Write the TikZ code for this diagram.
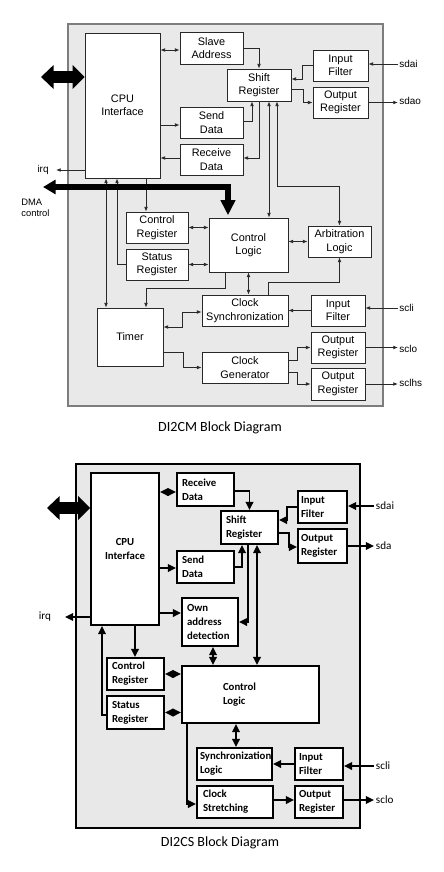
\documentclass[tikz,border=0pt]{standalone}
\usepackage{fontspec}
\usepackage{xcolor}
\usepackage{tikz}
\usetikzlibrary{arrows.meta,positioning}
\newfontfamily\arialfont{Liberation Sans}
\newfontfamily\calfont{Carlito}
\definecolor{dicm_panel}{RGB}{233,233,233}
\definecolor{dicm_edge}{RGB}{125,125,125}
\definecolor{dicm_line}{RGB}{40,40,40}
\definecolor{dics_panel}{RGB}{232,232,232}

\begin{document}
\begin{tikzpicture}[
      x=0.03cm, y=-0.03cm,
      panela/.style={fill=dicm_panel, draw=dicm_edge, line width=1.2pt},
      panelb/.style={fill=dics_panel, draw=black, line width=1.2pt},
      box/.style={draw=dicm_line, fill=white, line width=0.7pt, inner sep=0pt,
                  align=center, font=\arialfont\fontsize{9.3}{11.5}\selectfont},
      sz/.style 2 args={minimum width=#1cm, minimum height=#2cm},
      arr/.style={-{Latex[length=4pt,width=3.2pt]}, dicm_line, line width=0.7pt},
      darr/.style={{Latex[length=4pt,width=3.2pt]}-{Latex[length=4pt,width=3.2pt]},
                   dicm_line, line width=0.7pt},
      lbl/.style={font=\arialfont\fontsize{8.5}{10}\selectfont, inner sep=1pt},
      fatarr/.style={line width=0.36cm,
                     {Triangle[length=0.38cm,width=0.7cm]}-{Triangle[length=0.36cm,width=0.7cm]}},
      dmaarr/.style={line width=0.16cm,
                     {Triangle[length=0.38cm,width=0.42cm]}-{Triangle[length=0.45cm,width=0.42cm]}},
      bbox/.style={draw, fill=white, line width=1.6pt, inner xsep=0pt, inner ysep=0pt,
                   align=left, font=\calfont\bfseries\fontsize{9.2}{11.8}\selectfont},
      bsz/.style n args={3}{minimum width=#1cm, minimum height=#2cm, text width=#3cm},
      barr/.style={-{Triangle[length=7pt,width=6.5pt]}, line width=1.5pt},
      bdarr/.style={{Triangle[length=7pt,width=6.5pt]}-{Triangle[length=7pt,width=6.5pt]},
                    line width=1.5pt},
      blbl/.style={font=\calfont\fontsize{9.5}{11}\selectfont, inner sep=1.5pt},
      captxt/.style={font=\calfont\fontsize{12}{14}\selectfont},
    ]
    \useasboundingbox (0,0) rectangle (443,872);

    % DI2CM: master
    \draw[panela] (68,24) rectangle (383,406);
    \node[box, sz={2.25}{4.35}] (cpu)     at (122.5,105.5) {CPU\\Interface};
    \node[box, sz={1.89}{0.96}] (slave)   at (211.5,48)    {Slave\\Address};
    \node[box, sz={1.89}{0.93}] (send)    at (211.5,122.5) {Send\\Data};
    \node[box, sz={1.89}{0.93}] (recv)    at (211.5,159.5) {Receive\\Data};
    \node[box, sz={1.92}{0.96}] (shift)   at (259,85)      {Shift\\Register};
    \node[box, sz={1.65}{0.93}] (sdaflt)  at (340.5,65.5)  {Input\\Filter};
    \node[box, sz={1.65}{0.93}] (sdareg)  at (340.5,102.5) {Output\\Register};
    \node[box, sz={1.86}{0.93}] (ctrlreg) at (157,227.5)   {Control\\Register};
    \node[box, sz={1.86}{0.93}] (statreg) at (157,264.5)   {Status\\Register};
    \node[box, sz={2.37}{1.62}] (ctrl)    at (248.5,245)   {Control\\Logic};
    \node[box, sz={1.89}{0.93}] (arb)     at (339.5,241.5) {Arbitration\\Logic};
    \node[box, sz={2.58}{0.93}] (csync)   at (245,310.5)   {Clock\\Synchronization};
    \node[box, sz={1.62}{0.93}] (sclflt)  at (338,310.5)   {Input\\Filter};
    \node[box, sz={1.98}{1.74}] (timer)   at (130,337)     {Timer};
    \node[box, sz={2.58}{0.93}] (cgen)    at (245,367.5)   {Clock\\Generator};
    \node[box, sz={1.62}{0.93}] (sclreg)  at (338,347.5)   {Output\\Register};
    \node[box, sz={1.62}{0.96}] (hsreg)   at (338,384)     {Output\\Register};

    % pins
    \node[lbl, anchor=west] (sdai)  at (398,64)  {sdai};
    \node[lbl, anchor=west] (sdao)  at (398,101) {sdao};
    \node[lbl, anchor=west] (scli)  at (398,308) {scli};
    \node[lbl, anchor=west] (sclo)  at (398,349) {sclo};
    \node[lbl, anchor=west] (sclhs) at (398,383) {sclhs};
    \node[lbl, anchor=east] (irq)   at (50,170)  {irq};
    \node[lbl, anchor=west, align=left, font=\arialfont\fontsize{8}{9.5}\selectfont]
         (dmalbl) at (20,208) {DMA\\control};
    \coordinate (irqend) at (56,170);
    \coordinate (dmaend) at (43,187);
    \coordinate (busend) at (41,77);

    \draw[darr] (cpu.east |- 0,50) -- (slave.west |- 0,50);
    \draw[arr] (slave.east) -| (shift.north);
    \draw[arr] (cpu.east |- 0,125) -- (send.west |- 0,125);
    \draw[arr] (send.east |- 0,121) -| (shift.south -| 252,0);
    \draw[arr] (shift.south -| 259,0) |- (recv.east |- 0,158);
    \draw[arr] (recv.west |- 0,158) -- (cpu.east |- 0,158);
    \draw[darr] (shift.south -| 269,0) -- (ctrl.north -| 269,0);
    \draw[darr] (shift.south -| 277,0) -- ++(0,85) -| (arb.north);
    \draw[arr] (sdaflt.west) -- ++(-10,0) |- (shift.east |- 0,79);
    \draw[arr] (shift.east |- 0,89) -- ++(12,0) |- (sdareg.west);
    \draw[arr] (sdai.west) -- (sdai.west -| sdaflt.east);
    \draw[arr] (sdareg.east) -- (sdareg.east -| sdao.west);

    \draw[arr] (cpu.south -| 146,0) -- (ctrlreg.north -| 146,0);
    \draw[arr] (statreg.west) -| (cpu.south -| 117,0);
    \draw[darr] (cpu.south -| 106,0) -- (timer.north -| 106,0);
    \draw[darr] (ctrlreg.east) -- (ctrlreg.east -| ctrl.west);
    \draw[darr] (statreg.east) -- (statreg.east -| ctrl.west);
    \draw[darr] (ctrl.east |- arb.west) -- (arb.west);
    \draw[darr] (ctrl.south) -- (ctrl.south |- csync.north);
    \draw[arr] (csync.north -| 268,0) -- ++(0,-12) -| (arb.south);
    \draw[arr] (sclflt.west) -- (sclflt.west -| csync.east);
    \draw[arr] (scli.west) -- (scli.west -| sclflt.east);
    \draw[darr] (csync.west |- 0,312) -- ++(-19,0) |- (timer.east |- 0,327);
    \draw[arr] (ctrl.south -| 225,0) -- ++(0,16) -| (timer.north -| 146,0);
    \draw[arr] (timer.east |- 0,352) -- ++(20,0) |- (cgen.west);
    \draw[arr] (cgen.east |- 0,360) -- ++(9,0) |- (sclreg.west);
    \draw[arr] (cgen.east |- 0,372) -- ++(9,0) |- (hsreg.west);
    \draw[arr] (sclreg.east) -- (sclreg.east -| sclo.west);
    \draw[arr] (hsreg.east) -- (hsreg.east -| sclhs.west);
    \draw[arr] (cpu.west |- irqend) -- (irqend);

    % buses
    \draw[fatarr] (busend) -- (cpu.west |- busend);
    \draw[dmaarr] (dmaend) -| ([yshift=2pt]ctrl.north -| 228,0);

    \node[captxt] (capa) at (220,428) {DI2CM Block Diagram};

    % DI2CS: slave
    \draw[panelb] (76,464) rectangle (360,828);
    \node[bbox, bsz={2.04}{4.56}{2.04}, align=center] (cpub) at (125,549) {CPU\\Interface};
    \node[bbox, bsz={1.71}{0.99}{1.41}] (recvb)    at (205.5,489.5) {Receive\\Data};
    \node[bbox, bsz={1.71}{0.96}{1.41}] (sendb)    at (205.5,567)   {Send\\Data};
    \node[bbox, bsz={1.68}{1.44}{1.38}] (ownb)     at (210,622)     {Own\\address\\detection};
    \node[bbox, bsz={1.71}{0.99}{1.41}] (shiftb)   at (249.5,527.5) {Shift\\Register};
    \node[bbox, bsz={1.47}{0.96}{1.29}] (sdafltb)  at (322.5,507)   {Input\\Filter};
    \node[bbox, bsz={1.47}{1.02}{1.29}] (sdaregb)  at (322.5,546)   {Output\\Register};
    \node[bbox, bsz={1.71}{0.96}{1.41}] (ctrlregb) at (135.5,674)   {Control\\Register};
    \node[bbox, bsz={1.71}{0.99}{1.41}] (statregb) at (135.5,712.5) {Status\\Register};
    \node[bbox, bsz={4.11}{1.71}{1.65}] (ctrlb)    at (250.5,694.5) {Control\\Logic};
    \node[bbox, bsz={2.25}{0.96}{2.07}] (syncb)    at (234.5,764)   {Synchronization\\Logic};
    \node[bbox, bsz={1.44}{0.96}{1.2}]  (sclfltb)  at (319,764)     {Input\\Filter};
    \node[bbox, bsz={2.28}{0.96}{1.92}] (strb)     at (235,802)     {Clock\\Stretching};
    \node[bbox, bsz={1.44}{0.96}{1.2}]  (sclregb)  at (319,802)     {Output\\Register};

    % pins
    \node[blbl, anchor=west] (sdaib) at (374,506) {sdai};
    \node[blbl, anchor=west] (sdab)  at (374,546) {sda};
    \node[blbl, anchor=west] (sclib) at (374,766) {scli};
    \node[blbl, anchor=west] (sclob) at (374,800) {sclo};
    \node[blbl, anchor=east] (irqb)  at (53,617)  {irq};
    \coordinate (irqbend) at (65,617);
    \coordinate (busendb) at (47,508);

    \draw[fatarr] (busendb) -- (cpub.west |- busendb);
    \draw[bdarr] (cpub.east |- 0,492) -- (recvb.west |- 0,492);
    \draw[barr] (recvb.east |- 0,491) -| (shiftb.north);
    \draw[barr] (cpub.east |- 0,568) -- (sendb.west |- 0,568);
    \draw[barr] (sendb.east |- 0,567) -| (shiftb.south -| 242,0);
    \draw[barr] (shiftb.south -| 248,0) |- (ownb.east);
    \draw[bdarr] (shiftb.south -| 257,0) -- (ctrlb.north -| 257,0);
    \draw[barr] (cpub.east |- 0,613) -- (ownb.west |- 0,613);
    \draw[barr] (cpub.west |- irqbend) -- (irqbend);
    \draw[barr] (sdafltb.west) -- ++(-10,0) |- (shiftb.east |- 0,520);
    \draw[barr] (shiftb.east |- 0,533) -- ++(10,0) |- (sdaregb.west |- 0,547);
    \draw[barr] (sdaib.west) -- (sdaib.west -| sdafltb.east);
    \draw[barr] (sdaregb.east |- sdab.west) -- (sdab.west);

    \draw[bdarr] (ownb.south -| 213,0) -- (ctrlb.north -| 213,0);
    \draw[barr] (cpub.south -| 135,0) -- (ctrlregb.north -| 135,0);
    \draw[barr] (statregb.west |- 0,715) -| (cpub.south -| 102,0);
    \draw[bdarr] (ctrlregb.east) -- (ctrlregb.east -| ctrlb.west);
    \draw[bdarr] (statregb.east) -- (statregb.east -| ctrlb.west);
    \draw[bdarr] (ctrlb.south -| 236,0) -- (syncb.north -| 236,0);
    \draw[barr] (sclfltb.west) -- (sclfltb.west -| syncb.east);
    \draw[barr] (sclib.west) -- (sclib.west -| sclfltb.east);
    \draw[barr] (ctrlb.south -| 187,0) |- (strb.west |- 0,804);
    \draw[barr] (strb.east |- 0,800) -- (sclregb.west |- 0,800);
    \draw[barr] (sclregb.east |- sclob.west) -- (sclob.west);

    \node[captxt] (capb) at (220,843) {DI2CS Block Diagram};
  \end{tikzpicture}
\end{document}
